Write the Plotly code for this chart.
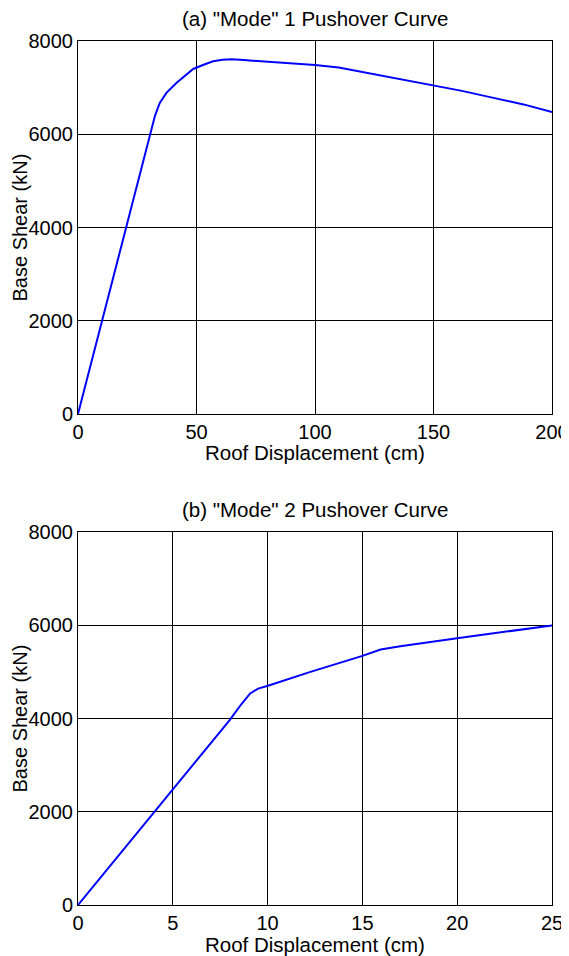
import plotly.graph_objects as go

# Mode 1 pushover curve
mode1_disp = [0, 30.3, 32.5, 34.5, 37.3, 41.5, 48.6, 53, 57, 61, 64.8, 70, 80, 90, 100, 110, 121.8, 135, 150, 162, 175.3, 188, 200]
mode1_shear = [0, 6000, 6400, 6673, 6887, 7100, 7400, 7490, 7564, 7600, 7607, 7590, 7552, 7520, 7485, 7430, 7314, 7200, 7051, 6930, 6780, 6640, 6474]

# Mode 2 pushover curve
mode2_disp = [0, 8.0, 8.6, 9.08, 9.5, 10.02, 12.26, 15, 15.96, 17, 20, 25]
mode2_shear = [0, 3966, 4300, 4538, 4640, 4701, 5001, 5344, 5481, 5550, 5723, 5995]

titles = ['(a) "Mode" 1 Pushover Curve', '(b) "Mode" 2 Pushover Curve']
x_title = "Roof Displacement (cm)"
y_title = "Base Shear (kN)"
y_ticks = [0, 2000, 4000, 6000, 8000]
x1_ticks = [0, 50, 100, 150, 200]
x2_ticks = [0, 5, 10, 15, 20, 25]

FONT = "Liberation Sans, Arial, sans-serif"
FS_TICK = 20
FS_TEXT = 20.5

# page body has an 8px margin: figure coordinates are page coordinates - 8
OFF = 8
W, H = 569 - OFF, 956 - OFF
left, right = 78 - OFF, 552 - OFF
top1, bot1 = 41 - OFF, 414 - OFF
top2, bot2 = 532 - OFF, 905 - OFF
ml, mr, mt, mb = left, W - right, top1, H - bot2
ph = H - mt - mb
d1 = [(H - mb - bot1) / ph, (H - mb - top1) / ph]
d2 = [(H - mb - bot2) / ph, (H - mb - top2) / ph]

fig = go.Figure()
fig.add_trace(go.Scatter(x=mode1_disp, y=mode1_shear, mode="lines",
                         line=dict(color="#0000FF", width=2), xaxis="x", yaxis="y", showlegend=False))
fig.add_trace(go.Scatter(x=mode2_disp, y=mode2_shear, mode="lines",
                         line=dict(color="#0000FF", width=2), xaxis="x2", yaxis="y2", showlegend=False))

axis_common = dict(showline=True, linecolor="black", linewidth=1, mirror=True,
                   showgrid=True, gridcolor="black", gridwidth=1,
                   ticks="", automargin=False, ticklabelstandoff=0,
                   zeroline=False, tickfont=dict(size=FS_TICK, color="black", family=FONT))

fig.update_layout(
    width=W, height=H,
    margin=dict(l=ml, r=mr, t=mt, b=mb),
    plot_bgcolor="white", paper_bgcolor="white",
    font=dict(family=FONT, size=FS_TEXT, color="black"),
    xaxis=dict(range=[0, 200], tickvals=x1_ticks, anchor="y", **axis_common),
    yaxis=dict(range=[0, 8000], tickvals=y_ticks, domain=d1, anchor="x", **axis_common),
    xaxis2=dict(range=[0, 25], tickvals=x2_ticks, anchor="y2", **axis_common),
    yaxis2=dict(range=[0, 8000], tickvals=y_ticks, domain=d2, anchor="x2", **axis_common),
)

def py(pix):
    return (H - mb - pix) / ph

txt = dict(size=FS_TEXT, family=FONT, color="black")
for t, top, bot in zip(titles, [top1, top2], [bot1, bot2]):
    # subplot title
    fig.add_annotation(text=t, xref="paper", yref="paper", x=0.5, y=py(top), yshift=9,
                       xanchor="center", yanchor="bottom", showarrow=False, font=txt)
    # x axis title
    fig.add_annotation(text=x_title, xref="paper", yref="paper", x=0.5, y=py(bot), yshift=-39,
                       xanchor="center", yanchor="middle", showarrow=False, font=txt)
    # y axis title
    fig.add_annotation(text=y_title, xref="paper", yref="paper", x=0, xshift=-(left - 11),
                       y=py((top + bot) / 2), xanchor="center", yanchor="middle",
                       textangle=-90, showarrow=False, borderpad=0,
                       font=dict(size=20, family=FONT, color="black"))

fig.write_html("out.html")
